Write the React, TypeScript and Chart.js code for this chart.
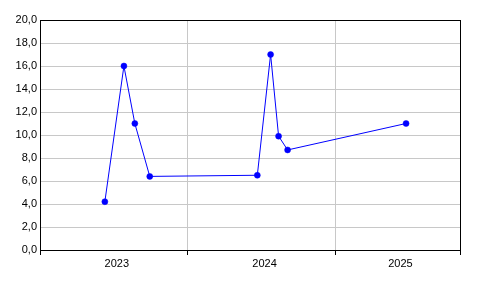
import React, { useEffect, useRef } from "react";
import { Chart, registerables } from "chart.js";

Chart.register(...registerables);

// x positions as decimal years
const xYears = [2023.439, 2023.568, 2023.642, 2023.743, 2024.471, 2024.561, 2024.615, 2024.676, 2025.478];
const values = [4.2, 16.0, 11.0, 6.4, 6.5, 17.0, 9.9, 8.7, 11.0];

const xMin = 2023.0;
const xMax = 2025.843;
const yearBoundaries = [2023, 2024, 2025, 2025.843];
const yearLabels = ["2023", "2024", "2025"];
const yearLabelPos = [2023.52, 2024.52, 2025.44];

const yMin = 0;
const yMax = 20;
const yStep = 2;

const frame = {
  id: "frame",
  afterDraw(chart: any) {
    const { ctx, chartArea } = chart;
    ctx.save();
    ctx.strokeStyle = "#000";
    ctx.lineWidth = 1;
    const l = Math.round(chartArea.left) + 0.5;
    const t = Math.round(chartArea.top) + 0.5;
    const r = Math.round(chartArea.right) + 0.5;
    const b = Math.round(chartArea.bottom) + 0.5;
    ctx.strokeRect(l, t, r - l, b - t);
    ctx.restore();
  },
};

export default function App() {
  const ref = useRef<HTMLCanvasElement>(null);
  useEffect(() => {
    if (!ref.current) return;
    const tickDefs: { value: number; label: string; boundary: boolean }[] = [];
    yearBoundaries.forEach((v) => tickDefs.push({ value: v, label: "", boundary: true }));
    yearLabelPos.forEach((v, i) => tickDefs.push({ value: v, label: yearLabels[i], boundary: false }));
    tickDefs.sort((a, b) => a.value - b.value);

    const chart = new Chart(ref.current, {
      type: "line",
      data: {
        datasets: [
          {
            data: xYears.map((x, i) => ({ x, y: values[i] })),
            borderColor: "#0000ff",
            backgroundColor: "#0000ff",
            borderWidth: 1,
            pointRadius: 3,
            pointBorderWidth: 0.5,
            pointBackgroundColor: "#0000ff",
            pointBorderColor: "#0000ff",
            tension: 0,
          },
        ],
      },
      plugins: [frame],
      options: {
        animation: false,
        responsive: false,
        devicePixelRatio: 1,
        layout: { padding: { top: 20, right: 36, left: 0, bottom: 0 } },
        plugins: { legend: { display: false }, tooltip: { enabled: false } },
        scales: {
          x: {
            type: "linear",
            min: xMin,
            max: xMax,
            afterBuildTicks: (axis: any) => {
              axis.ticks = tickDefs.map((t) => ({ value: t.value }));
            },
            afterFit: (axis: any) => {
              axis.height = 46;
            },
            border: { display: false },
            grid: {
              color: (ctx: any) => {
                const t = tickDefs[ctx.index];
                return t && t.boundary ? "#c8c8c8" : "rgba(0,0,0,0)";
              },
              tickColor: (ctx: any) => {
                const t = tickDefs[ctx.index];
                return t && t.boundary ? "#000" : "rgba(0,0,0,0)";
              },
              tickLength: 5,
              lineWidth: 1,
            },
            ticks: {
              autoSkip: false,
              maxRotation: 0,
              minRotation: 0,
              padding: 2,
              color: "#000",
              font: { family: "'Liberation Sans', Arial, sans-serif", size: 11 },
              callback: (_v: any, i: number) => (tickDefs[i] ? tickDefs[i].label : ""),
            },
          },
          y: {
            min: yMin,
            max: yMax,
            afterFit: (axis: any) => {
              axis.width = 40;
            },
            border: { display: false },
            grid: { color: "#c8c8c8", drawTicks: false, lineWidth: 1 },
            ticks: {
              stepSize: yStep,
              padding: 3,
              color: "#000",
              font: { family: "'Liberation Sans', Arial, sans-serif", size: 11 },
              callback: (v: any) => Number(v).toFixed(1).replace(".", ","),
            },
          },
        },
      },
    });
    return () => chart.destroy();
  }, []);
  return (
    <div style={{ position: "fixed", left: 0, top: 0, width: 496, height: 296, background: "#fff" }}>
      <canvas ref={ref} width={496} height={296} style={{ display: "block" }} />
    </div>
  );
}
